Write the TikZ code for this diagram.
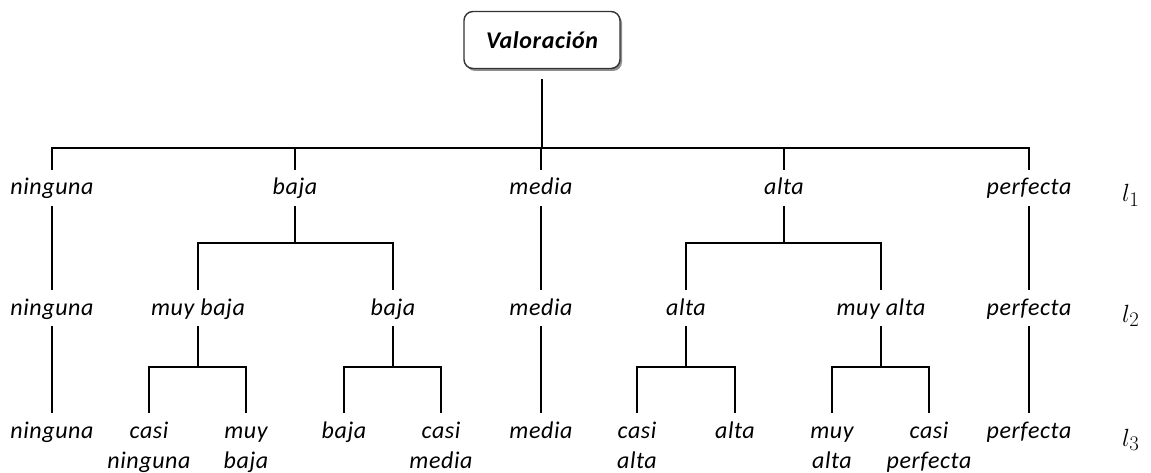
\documentclass[tikz,border=0pt]{standalone}
\usepackage{fontspec}
\setmainfont{Carlito}[LetterSpace=2.5]
\usetikzlibrary{shadows}
\begin{document}
\begin{tikzpicture}[x=1pt,y=-1pt,
  conn/.style={line width=2.6pt},
  lab/.style={font=\itshape\fontsize{24}{30}\selectfont, inner sep=0pt, outer sep=0pt, anchor=north, text height=25pt, text depth=11pt},
  labtwo/.style={font=\itshape\fontsize{24}{30}\selectfont, inner sep=0pt, outer sep=0pt, anchor=north, align=center},
  root/.style={draw=black!80, line width=1.4pt, rounded corners=9pt, minimum width=156pt, minimum height=57pt, inner sep=0pt,
    font=\bfseries\itshape\fontsize{24}{28}\selectfont, fill=white,
    drop shadow={shadow xshift=2pt, shadow yshift=-2.5pt, fill=black!55, opacity=0.8}},
  lev/.style={font=\fontsize{24.88}{30}\selectfont, inner sep=0pt, anchor=base west}
]
\useasboundingbox (0,0) rectangle (1151,473);

% root
\node[root] (root) at (542,40) {Valoración};
\coordinate (bar1) at (541,148);
\coordinate (bar2) at (0,243);
\coordinate (bar3) at (0,367);

% level 1
\node[lab] (n1) at (52,170) {ninguna};
\node[lab] (b1) at (295,170) {baja};
\node[lab] (m1) at (541,170) {media};
\node[lab] (a1) at (784,170) {alta};
\node[lab] (p1) at (1029,170) {perfecta};

% level 2
\node[lab] (n2) at (52,290) {ninguna};
\node[lab] (mb2) at (198,290) {muy baja};
\node[lab] (b2) at (393,290) {baja};
\node[lab] (m2) at (541,290) {media};
\node[lab] (a2) at (686,290) {alta};
\node[lab] (ma2) at (881,290) {muy alta};
\node[lab] (p2) at (1029,290) {perfecta};

% level 3
\node[lab] (n3) at (52,413) {ninguna};
\node[labtwo] (cn3) at (149,413) {\rule{0pt}{25pt}casi\\ninguna};
\node[labtwo] (mb3) at (246,413) {\rule{0pt}{25pt}muy\\baja};
\node[lab] (b3) at (344,413) {baja};
\node[labtwo] (cm3) at (441,413) {\rule{0pt}{25pt}casi\\media};
\node[lab] (m3) at (541,413) {media};
\node[labtwo] (ca3) at (637,413) {\rule{0pt}{25pt}casi\\alta};
\node[lab] (a3) at (735,413) {alta};
\node[labtwo] (ma3) at (832,413) {\rule{0pt}{25pt}muy\\alta};
\node[labtwo] (cp3) at (929,413) {\rule{0pt}{25pt}casi\\perfecta};
\node[lab] (p3) at (1029,413) {perfecta};

% level markers
\node[lev] (L1) at (1122,202) {$l_1$};
\node[lev] (L2) at (1122,322) {$l_2$};
\node[lev] (L3) at (1122,446) {$l_3$};

% root to level 1
\draw[conn, shorten <=10pt] (root.south) -- (root.south |- bar1);
\draw[conn] (n1.north) |- (bar1) -| (p1.north);
\draw[conn] (b1.north) -- (b1.north |- bar1);
\draw[conn] (m1.north) -- (m1.north |- bar1);
\draw[conn] (a1.north) -- (a1.north |- bar1);

% level 1 to level 2
\draw[conn] (n1.south) -- (n2.north);
\draw[conn] (m1.south) -- (m2.north);
\draw[conn] (p1.south) -- (p2.north);
\draw[conn] (b1.south) -- (b1.south |- bar2);
\draw[conn] (mb2.north) |- (b2.north |- bar2) -- (b2.north);
\draw[conn] (a1.south) -- (a1.south |- bar2);
\draw[conn] (a2.north) |- (ma2.north |- bar2) -- (ma2.north);

% level 2 to level 3
\draw[conn] (n2.south) -- (n3.north);
\draw[conn] (m2.south) -- (m3.north);
\draw[conn] (p2.south) -- (p3.north);
\draw[conn] (mb2.south) -- (mb2.south |- bar3);
\draw[conn] (cn3.north) |- (mb3.north |- bar3) -- (mb3.north);
\draw[conn] (b2.south) -- (b2.south |- bar3);
\draw[conn] (b3.north) |- (cm3.north |- bar3) -- (cm3.north);
\draw[conn] (a2.south) -- (a2.south |- bar3);
\draw[conn] (ca3.north) |- (a3.north |- bar3) -- (a3.north);
\draw[conn] (ma2.south) -- (ma2.south |- bar3);
\draw[conn] (ma3.north) |- (cp3.north |- bar3) -- (cp3.north);
\end{tikzpicture}
\end{document}
